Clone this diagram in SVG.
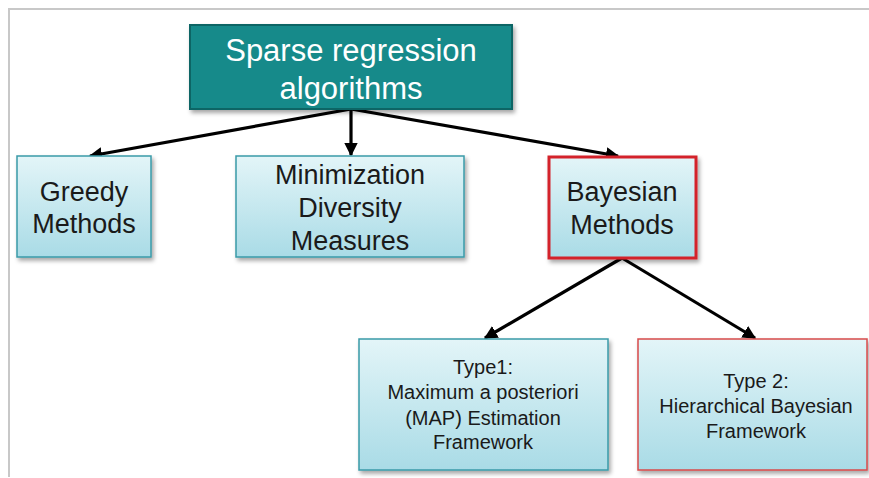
<svg xmlns="http://www.w3.org/2000/svg" width="869" height="478" viewBox="0 0 869 478">
  <defs>
    <linearGradient id="boxFill" x1="0" y1="0" x2="0" y2="1">
      <stop offset="0" stop-color="#e3f5f8"/>
      <stop offset="1" stop-color="#a9dbe6"/>
    </linearGradient>
    <filter id="shadow" x="-10%" y="-10%" width="125%" height="130%">
      <feDropShadow dx="2" dy="3" stdDeviation="2" flood-color="#000" flood-opacity="0.35"/>
    </filter>
    <marker id="arrow" viewBox="0 0 10 10" refX="9" refY="5" markerWidth="4.2" markerHeight="4.2" orient="auto" markerUnits="strokeWidth">
      <path d="M0,0 L10,5 L0,10 z" fill="#000"/>
    </marker>
  </defs>
  <style>
    .frame { stroke: #c8c8c8; stroke-width: 2; fill: none; }
    .box { fill: url(#boxFill); stroke: #3a9aa8; stroke-width: 1.5; filter: url(#shadow); }
    .box-red { fill: url(#boxFill); stroke: #d3202a; stroke-width: 3; filter: url(#shadow); }
    .box-red-thin { fill: url(#boxFill); stroke: #d84a4a; stroke-width: 1.5; filter: url(#shadow); }
    .root { fill: #168a8a; stroke: #0d6565; stroke-width: 2; filter: url(#shadow); }
    .t-root { font-family: "Liberation Sans", Arial, sans-serif; font-size: 31px; fill: #ffffff; text-anchor: middle; }
    .t-big { font-family: "Liberation Sans", Arial, sans-serif; font-size: 27px; fill: #1a1a1a; text-anchor: middle; }
    .t-small { font-family: "Liberation Sans", Arial, sans-serif; font-size: 20px; fill: #1a1a1a; text-anchor: middle; }
    .link { stroke: #000; stroke-width: 3.2; fill: none; marker-end: url(#arrow); }
  </style>

  <rect width="869" height="478" fill="#ffffff"/>
  <!-- page frame -->
  <path class="frame" d="M9,477 V9 H869"/>

  <g id="connectors">
    <line class="link" x1="351" y1="109" x2="90" y2="156"/>
    <line class="link" x1="351" y1="109" x2="351" y2="155"/>
    <line class="link" x1="351" y1="109" x2="618" y2="156"/>
    <line class="link" x1="622" y1="258" x2="485" y2="338"/>
    <line class="link" x1="622" y1="258" x2="755" y2="338"/>
  </g>

  <g id="root">
    <rect class="root" x="190" y="25" width="322" height="84"/>
    <text class="t-root" x="351" y="61">Sparse regression</text>
    <text class="t-root" x="351" y="99">algorithms</text>
  </g>

  <g id="greedy">
    <rect class="box" x="17" y="156" width="134" height="101"/>
    <text class="t-big" x="84" y="201">Greedy</text>
    <text class="t-big" x="84" y="233">Methods</text>
  </g>

  <g id="minimization">
    <rect class="box" x="236" y="156" width="228" height="101"/>
    <text class="t-big" x="350" y="184">Minimization</text>
    <text class="t-big" x="350" y="217">Diversity</text>
    <text class="t-big" x="350" y="250">Measures</text>
  </g>

  <g id="bayesian">
    <rect class="box-red" x="549" y="157" width="147" height="101"/>
    <text class="t-big" x="622" y="201">Bayesian</text>
    <text class="t-big" x="622" y="234">Methods</text>
  </g>

  <g id="type1">
    <rect class="box" x="359" y="339" width="249" height="131"/>
    <text class="t-small" x="483" y="374">Type1:</text>
    <text class="t-small" x="483" y="399">Maximum a posteriori</text>
    <text class="t-small" x="483" y="425">(MAP) Estimation</text>
    <text class="t-small" x="483" y="449">Framework</text>
  </g>

  <g id="type2">
    <rect class="box-red-thin" x="638" y="339" width="229" height="131"/>
    <text class="t-small" x="756" y="388">Type 2:</text>
    <text class="t-small" x="756" y="413">Hierarchical Bayesian</text>
    <text class="t-small" x="756" y="438">Framework</text>
  </g>
</svg>
